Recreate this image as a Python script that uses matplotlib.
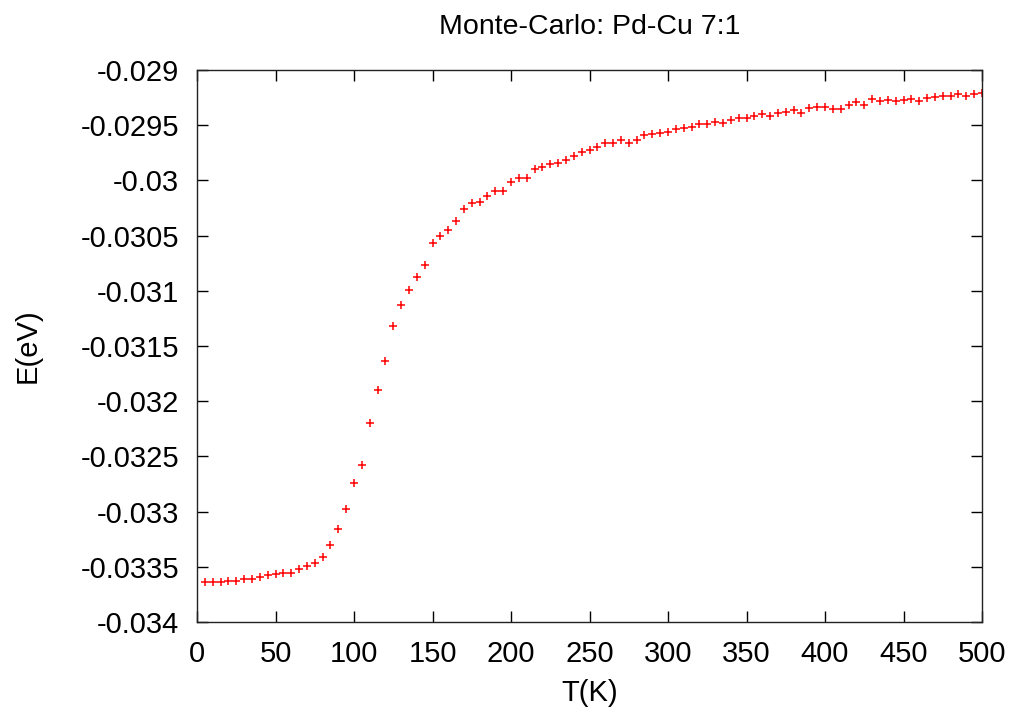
import numpy as np
import matplotlib
matplotlib.use('Agg')
import matplotlib.pyplot as plt

plt.rcParams['font.family'] = ['Liberation Sans', 'DejaVu Sans']

# Monte-Carlo energy per site vs temperature, one sample every 5 K
T = np.arange(5, 505, 5)
E = [
    -0.033636, -0.033636, -0.033636, -0.033627, -0.033627,   # 5-25
    -0.033615, -0.033606, -0.033594, -0.033576, -0.033567,   # 30-50
    -0.033552, -0.033552, -0.033518, -0.033494, -0.033470,   # 55-75
    -0.033413, -0.033298, -0.033162, -0.032974, -0.032744,   # 80-100
    -0.032578, -0.032194, -0.031901, -0.031632, -0.031323,   # 105-125
    -0.031127, -0.030994, -0.030876, -0.030767, -0.030570,   # 130-150
    -0.030504, -0.030447, -0.030368, -0.030262, -0.030208,   # 155-175
    -0.030193, -0.030139, -0.030093, -0.030093, -0.030017,   # 180-200
    -0.029975, -0.029975, -0.029899, -0.029876, -0.029854,   # 205-225
    -0.029839, -0.029812, -0.029776, -0.029740, -0.029724,   # 230-250
    -0.029700, -0.029663, -0.029658, -0.029636, -0.029658,   # 255-275
    -0.029633, -0.029588, -0.029579, -0.029567, -0.029558,   # 280-300
    -0.029536, -0.029525, -0.029513, -0.029491, -0.029491,   # 305-325
    -0.029468, -0.029482, -0.029455, -0.029437, -0.029437,   # 330-350
    -0.029413, -0.029395, -0.029413, -0.029386, -0.029377,   # 355-375
    -0.029359, -0.029391, -0.029343, -0.029334, -0.029334,   # 380-400
    -0.029350, -0.029350, -0.029316, -0.029292, -0.029319,   # 405-425
    -0.029259, -0.029280, -0.029274, -0.029283, -0.029274,   # 430-450
    -0.029259, -0.029283, -0.029255, -0.029246, -0.029234,   # 455-475
    -0.029234, -0.029216, -0.029234, -0.029214, -0.029205,   # 480-500
]

xticks = [0, 50, 100, 150, 200, 250, 300, 350, 400, 450, 500]
yticks = [-0.034, -0.0335, -0.033, -0.0325, -0.032, -0.0315,
          -0.031, -0.0305, -0.03, -0.0295, -0.029]
ytick_labels = ['-0.034', '-0.0335', '-0.033', '-0.0325', '-0.032', '-0.0315',
                '-0.031', '-0.0305', '-0.03', '-0.0295', '-0.029']

fig = plt.figure(figsize=(10.13, 7.09), dpi=100)
ax = fig.add_axes([0.1945, 0.1227, 0.7749, 0.7786])

ax.plot(T, E, linestyle='none', marker='+', color='#ff0000',
        markersize=5.5, markeredgewidth=1.1)

ax.set_xlim(0, 500)
ax.set_ylim(-0.034, -0.029)
ax.set_xticks(xticks)
ax.set_xticklabels([str(v) for v in xticks])
ax.set_yticks(yticks)
ax.set_yticklabels(ytick_labels)

ax.tick_params(direction='in', length=8, width=1, top=True, right=True,
               labelsize=21, colors='black')
ax.tick_params(axis='x', pad=13)
ax.tick_params(axis='y', pad=13)
for s in ax.spines.values():
    s.set_linewidth(1)
    s.set_color('#222222')

ax.set_title('Monte-Carlo: Pd-Cu 7:1', fontsize=20.5, pad=26)
ax.set_xlabel('T(K)', fontsize=21, labelpad=8)
ax.set_ylabel('E(eV)', fontsize=21, labelpad=28)

fig.savefig('out.png', dpi=100, facecolor='white')
